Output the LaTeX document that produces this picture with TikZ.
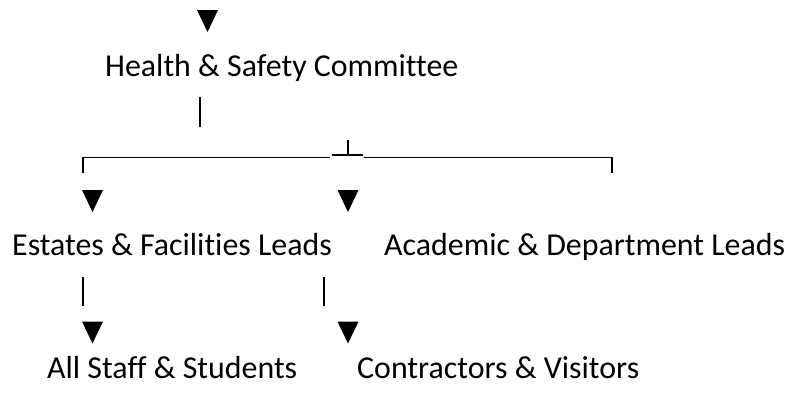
\documentclass[tikz,border=0pt]{standalone}
\usepackage{fontspec}
\setmainfont{Carlito}[Ligatures={NoCommon}]
\begin{document}
\begin{tikzpicture}[x=1pt,y=-1pt,
  lbl/.style={anchor=base west,inner sep=0pt,font=\fontsize{31.9}{36}\selectfont},
  ln/.style={line width=1.3pt,line cap=butt},
  tridown/.pic={\fill (-10.5,-11) -- (10.5,-11) -- (0,11) -- cycle;}]
\useasboundingbox (0,0) rectangle (790,394);
% texts
\node[lbl] (hsc) at (105,76) {Health \& Safety Committee};
\node[lbl] (efl) at (12,255) {Estates \& Facilities Leads};
\node[lbl] (adl) at (384,255) {Academic \& Department Leads};
\node[lbl] (ass) at (47,378) {All Staff \& Students};
\node[lbl] (cav) at (357,378) {Contractors \& Visitors};
% arrowheads
\pic at (207.5,21) {tridown};
\pic at (92.5,201) {tridown};
\pic at (348,201) {tridown};
\pic at (92.5,332.5) {tridown};
\pic at (348,332.5) {tridown};
% connector points
\coordinate (b1t) at (200,97);  \coordinate (b1b) at (200,127);
\coordinate (lc) at (83,173);   \coordinate (lct) at (83,157.5);
\coordinate (lend) at (330,157.5);
\coordinate (tbl) at (332,155); \coordinate (tbr) at (363,155);
\coordinate (tst) at (348,140); \coordinate (tsb) at (348,155);
\coordinate (rbeg) at (364,157.5);
\coordinate (rct) at (612,157.5); \coordinate (rc) at (612,173);
\coordinate (b2t) at (83,277);  \coordinate (b2b) at (83,306);
\coordinate (b3t) at (324,277); \coordinate (b3b) at (324,306);
% connectors
\draw[ln] (b1t) -- (b1b);
\draw[ln] (lc) -- (lct) -- (lend);
\draw[ln] (tbl) -- (tbr);
\draw[ln] (tst) -- (tsb);
\draw[ln] (rbeg) -- (rct) -- (rc);
\draw[ln] (b2t) -- (b2b);
\draw[ln] (b3t) -- (b3b);
\end{tikzpicture}
\end{document}
